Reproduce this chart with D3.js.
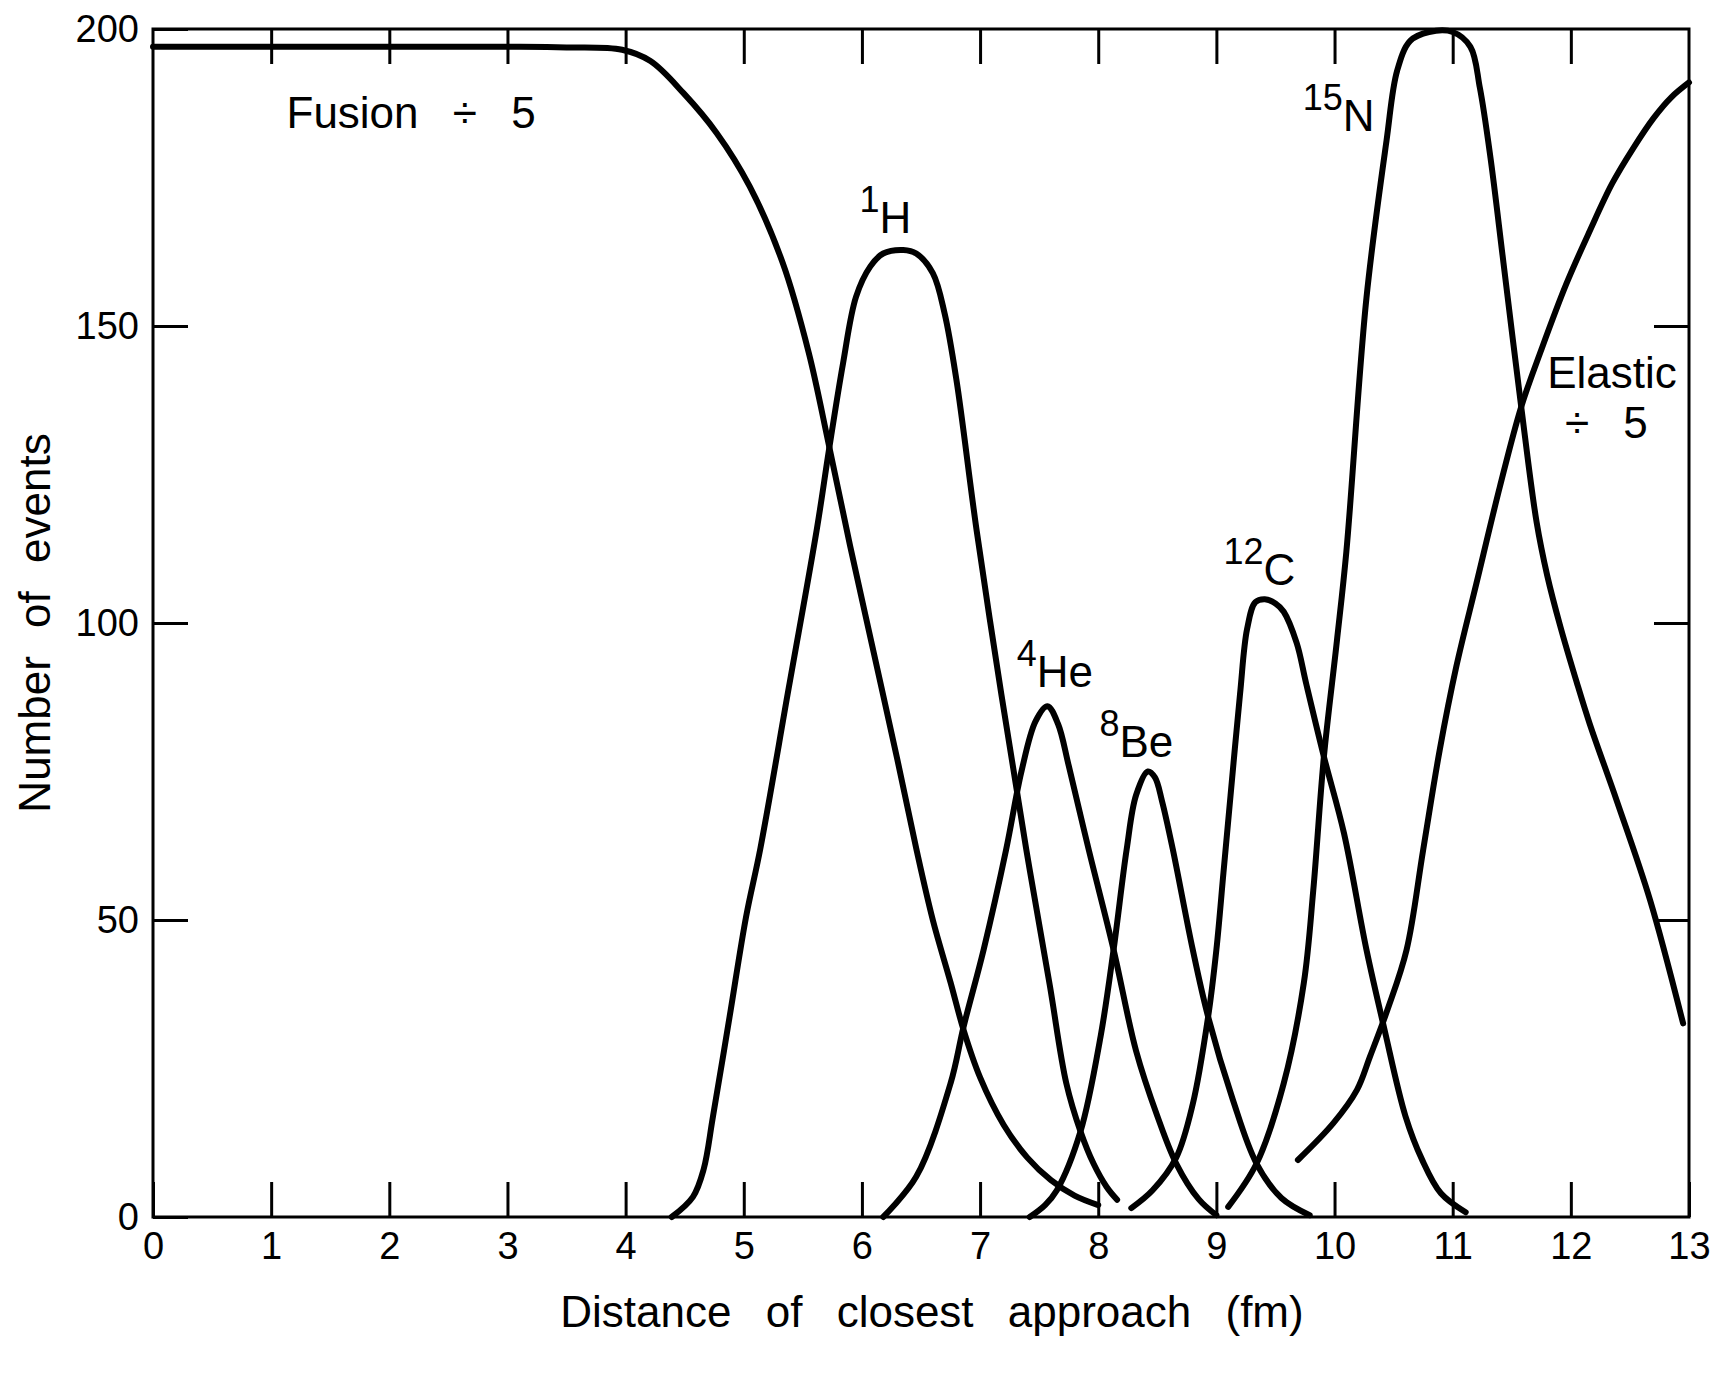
<!DOCTYPE html>
<html>
<head>
<meta charset="utf-8">
<script src="https://cdn.jsdelivr.net/npm/d3@7"></script>
<style>
  body { margin: 0; background: #fff; }
  svg text { font-family: "Liberation Sans", Arial, Helvetica, sans-serif; fill: #000; }
</style>
</head>
<body>
<svg id="chart"></svg>
<script>
// values: [distance of closest approach (fm), number of events]
const fusion = [[0,197],[1,197],[2,197],[3,197],[3.5,196.9],[3.97,196.5],[4.21,194.6],[4.49,189.2],
  [4.77,182.5],[5.05,173.5],[5.33,160.6],[5.55,145.5],[5.72,130],[5.9,113],[6.1,95],[6.3,77],
  [6.46,62],[6.6,50],[6.75,39.5],[6.86,31.5],[7.0,23.5],[7.2,15.5],[7.4,10],[7.6,6.2],[7.8,3.6],[8.0,2.0]];
const h1 = [[4.39,0],[4.57,3.4],[4.66,8],[4.74,17],[4.88,33.7],[5.02,50.6],[5.14,62],[5.38,89],
  [5.62,116],[5.72,129],[5.84,143.7],[5.95,154.9],[6.07,160],[6.18,162.2],[6.35,162.8],[6.46,162.2],
  [6.6,158.9],[6.7,152.1],[6.8,140.9],[6.97,115.7],[7.18,88],[7.39,62],[7.59,39],[7.73,22.5],
  [7.85,14.4],[7.96,9],[8.07,5.1],[8.16,2.9]];
const he4 = [[6.18,0],[6.46,6.8],[6.75,22.5],[6.86,32],[7.03,45],[7.22,61.8],[7.35,75],[7.47,83.5],
  [7.57,86],[7.66,83],[7.75,76],[7.92,61.8],[8.13,45],[8.32,28],[8.5,17],[8.66,9],[8.85,3],[9.0,0.3]];
const be8 = [[7.42,0],[7.55,2],[7.65,4.5],[7.85,14.4],[8.02,30.4],[8.13,45],[8.24,61.8],[8.32,71],
  [8.42,75],[8.48,74],[8.54,70],[8.63,62],[8.8,45],[8.93,33.7],[9.14,19.7],[9.34,9],[9.55,3.2],[9.79,0.3]];
const c12 = [[8.28,1.5],[8.46,4.5],[8.66,10],[8.8,19],[8.93,33.7],[9.0,45],[9.06,58],[9.12,71],[9.2,88],
  [9.26,99],[9.33,103.5],[9.41,104],[9.5,103.3],[9.57,101.9],[9.68,96.6],[9.76,89.8],[9.91,77.5],
  [10.08,64.6],[10.27,45],[10.42,31.8],[10.6,17],[10.74,9.7],[10.9,4],[11.11,0.8]];
const n15 = [[9.1,1.7],[9.34,9],[9.57,22.5],[9.74,39.4],[9.82,55],[9.91,77.5],[10.02,97],[10.1,112],
  [10.27,154.7],[10.44,181.2],[10.53,193],[10.64,198],[10.8,199.5],[11.0,199.5],[11.15,197],
  [11.23,190.1],[11.32,178.3],[11.43,160.6],[11.58,136.4],[11.71,117],[11.8,108],[11.91,99.5],
  [12.05,90],[12.16,83],[12.39,70],[12.67,53.4],[12.95,32.6]];
const elastic = [[9.69,9.6],[9.99,15.8],[10.19,21.4],[10.3,27],[10.45,35],[10.61,45],[10.75,61.8],
  [10.89,78.6],[11.03,92.6],[11.2,106.6],[11.4,123],[11.58,136.4],[11.75,146],[11.96,157],
  [12.16,166],[12.35,174],[12.53,180],[12.7,185],[12.85,188.5],[13.0,191]];

const series = [fusion, h1, he4, be8, c12, n15, elastic];

const xTicks = d3.range(0, 14);
const yTicks = [0, 50, 100, 150, 200];

// curve labels, anchored in data units
const isotopes = [
  { mass: "1", name: "H", at: [5.98, 165.7] },
  { mass: "4", name: "He", at: [7.31, 89.2] },
  { mass: "8", name: "Be", at: [8.01, 77.4] },
  { mass: "12", name: "C", at: [9.06, 106.4] },
  { mass: "15", name: "N", at: [9.73, 182.8] }
];
const notes = [
  { text: "Fusion ÷ 5", at: [1.13, 183.3] },
  { text: "Elastic", at: [11.8, 139.6] },
  { text: "÷ 5", at: [11.95, 131.1] }
];

const margin = { top: 29, right: 26, bottom: 156, left: 153 },
    width = 1715 - margin.left - margin.right,
    height = 1373 - margin.top - margin.bottom;

const svg = d3.select("#chart")
    .attr("width", width + margin.left + margin.right)
    .attr("height", height + margin.top + margin.bottom)
    .style("background", "#fff");

const g = svg.append("g")
    .attr("transform", "translate(" + margin.left + "," + margin.top + ")");

const x = d3.scaleLinear().domain([0, 13]).range([0, width]);
const y = d3.scaleLinear().domain([0, 200]).range([height, 0]);

function styleAxis(sel) {
  sel.select(".domain").remove();
  sel.attr("font-family", null).attr("font-size", null);
  sel.selectAll(".tick line").attr("stroke", "#000").attr("stroke-width", 3);
  sel.selectAll(".tick text").style("font-size", "38px");
}

// ticks point inward on all four sides
g.append("g")
    .attr("transform", "translate(0," + height + ")")
    .call(d3.axisBottom(x).tickValues(xTicks).tickSizeInner(-35).tickSizeOuter(0).tickPadding(15))
    .call(styleAxis);

g.append("g")
    .call(d3.axisTop(x).tickValues(d3.range(1, 13)).tickSizeInner(-35).tickSizeOuter(0).tickFormat(""))
    .call(styleAxis);

g.append("g")
    .call(d3.axisLeft(y).tickValues(yTicks).tickSizeInner(-35).tickSizeOuter(0).tickPadding(14))
    .call(styleAxis);

g.append("g")
    .attr("transform", "translate(" + width + ",0)")
    .call(d3.axisRight(y).tickValues([50, 100, 150]).tickSizeInner(-35).tickSizeOuter(0).tickFormat(""))
    .call(styleAxis);

// frame
g.append("rect")
    .attr("width", width)
    .attr("height", height)
    .attr("fill", "none")
    .attr("stroke", "#000")
    .attr("stroke-width", 3);

const line = d3.line()
    .x(d => x(d[0]))
    .y(d => y(d[1]))
    .curve(d3.curveCatmullRom.alpha(0.5));

g.selectAll(".curve").data(series)
  .enter().append("path")
    .attr("class", "curve")
    .attr("d", line)
    .attr("fill", "none")
    .attr("stroke", "#000")
    .attr("stroke-width", 6)
    .attr("stroke-linecap", "round")
    .attr("stroke-linejoin", "round");

// isotope labels with superscript mass number
const iso = g.selectAll(".iso").data(isotopes)
  .enter().append("text")
    .attr("class", "iso")
    .attr("x", d => x(d.at[0]))
    .attr("y", d => y(d.at[1]));
iso.append("tspan").style("font-size", "36px").attr("dy", -21).text(d => d.mass);
iso.append("tspan").style("font-size", "44px").attr("dy", 21).text(d => d.name);

g.selectAll(".note").data(notes)
  .enter().append("text")
    .attr("class", "note")
    .attr("x", d => x(d.at[0]))
    .attr("y", d => y(d.at[1]))
    .style("font-size", "44px")
    .style("word-spacing", "22px")
    .text(d => d.text);

// axis titles
g.append("text")
    .attr("x", width / 2 + 11)
    .attr("y", height + 110)
    .attr("text-anchor", "middle")
    .style("font-size", "44px")
    .style("word-spacing", "22px")
    .text("Distance of closest approach (fm)");

g.append("text")
    .attr("transform", "translate(" + (50 - margin.left) + "," + (623 - margin.top) + ") rotate(-90)")
    .attr("text-anchor", "middle")
    .style("font-size", "44px")
    .style("word-spacing", "16px")
    .text("Number of events");
</script>
</body>
</html>
